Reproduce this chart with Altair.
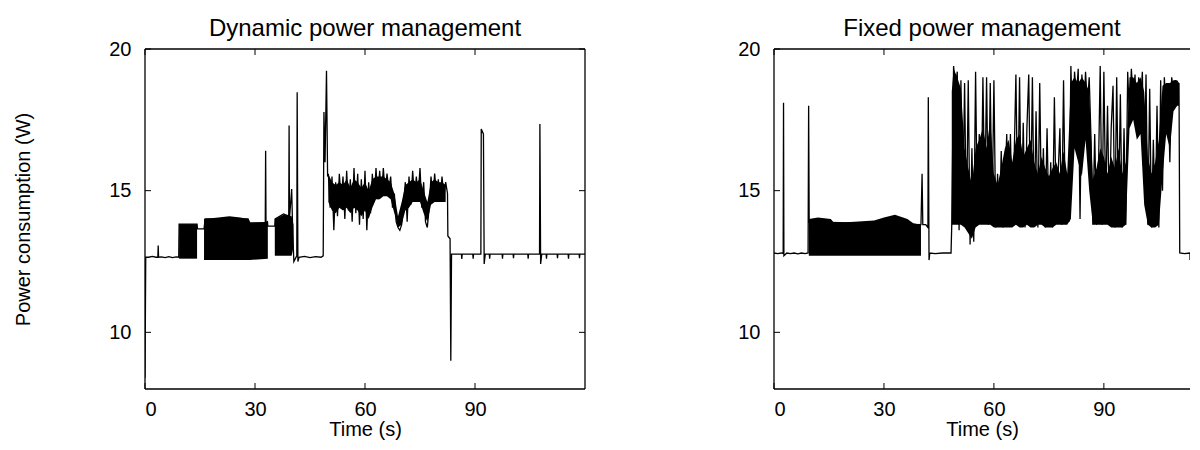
import altair as alt
import pandas as pd

# ---------------- Dynamic power management ----------------
dyn_t = [0, 0.2, 1, 2, 3, 3.5, 3.6, 3.7, 4.5, 5.5, 6.5, 7.5, 8.5, 9.2,
         9.3, 14.2, 14.3, 16.1, 16.4, 28.1, 28.6, 32.8, 32.9, 33.0, 33.4, 33.5, 35.4,
         35.5, 37.8, 39.2, 39.3, 39.4, 40.0, 40.3, 40.6, 41.0, 41.4, 41.5, 41.7,
         42, 43.5, 45, 46.5, 48, 48.6, 48.8, 49.1, 49.5, 49.8,
         50, 50.5, 51, 51.5, 52, 52.5, 53, 53.5, 54, 54.5, 55, 55.5, 56, 56.5,
         57, 57.5, 58, 58.5, 59, 59.5, 60, 60.5, 61, 61.5, 62, 62.5, 63, 63.5,
         64, 64.5, 65, 65.5, 66, 66.5, 67, 67.5, 68, 68.5, 69, 69.5, 70, 70.5,
         71, 71.5, 72, 72.5, 73, 73.5, 74, 74.5, 75, 75.5, 76, 76.5, 77, 77.5,
         78, 78.5, 79, 79.5, 80, 80.5, 81, 81.5, 82, 82.5,
         82.6, 83.2, 83.4, 83.6, 86.3, 86.4, 86.5, 89.4, 89.5, 89.6, 91.6, 91.7,
         92.3, 92.5, 92.8, 93.9, 94, 94.1, 97.4, 97.5, 97.6, 100.4, 100.5, 100.6,
         104.4, 104.5, 104.6, 107.6, 107.7, 107.9, 108.2, 109.4, 109.5, 109.6, 112.4,
         112.5, 112.6, 115.4, 115.5, 115.6, 118.4, 118.5, 118.6, 120]
dyn_v = [8.4, 12.65, 12.65, 12.68, 12.65, 12.65, 13.06, 12.65, 12.66, 12.64, 12.67, 12.64, 12.66, 12.65,
         13.82, 13.82, 13.65, 13.65, 14.0, 14.0, 13.86, 13.86, 16.41, 13.86, 13.9, 13.75, 13.75,
         14.0, 14.18, 14.1, 17.3, 14.0, 15.06, 13.5, 12.5, 12.6, 12.7, 18.47, 12.5,
         12.65, 12.68, 12.64, 12.67, 12.65, 12.7, 17.78, 16.0, 19.23, 15.5,
         15.6, 14.4, 15.5, 13.6, 15.3, 14.1, 15.6, 14.6, 15.5, 14.0, 15.7, 14.3, 15.4, 13.9,
         15.8, 14.2, 15.6, 13.8, 15.4, 14.0, 15.7, 13.6, 15.3, 14.2, 15.6, 14.6, 15.8, 14.7,
         15.7, 14.8, 15.8, 14.9, 15.6, 15.0, 15.5, 14.4, 14.9, 13.9, 13.7, 13.6, 13.8, 14.5,
         15.3, 13.9, 15.5, 14.5, 15.7, 14.7, 15.5, 14.8, 15.8, 14.4, 15.3, 13.9, 13.7, 14.4,
         15.5, 14.7, 15.6, 14.8, 15.4, 14.6, 15.5, 14.8, 15.3, 14.9,
         13.4, 13.3, 9.0, 12.76, 12.76, 12.59, 12.76, 12.76, 12.6, 12.76, 12.76, 17.18,
         17.0, 12.41, 12.76, 12.76, 12.6, 12.76, 12.76, 12.6, 12.76, 12.76, 12.62, 12.76,
         12.76, 12.6, 12.76, 12.76, 17.35, 12.41, 12.76, 12.76, 12.6, 12.76, 12.76,
         12.62, 12.76, 12.76, 12.6, 12.76, 12.76, 12.62, 12.76, 12.76]

# dense bands (rapid switching that prints as solid black)
dyn_band_seg = ["a", "a",
                "b", "b", "b", "b", "b", "b", "b",
                "c", "c", "c", "c",
                "d", "d", "d", "d", "d", "d", "d", "d", "d", "d", "d", "d", "d", "d", "d", "d",
                "d", "d", "d", "d", "d", "d", "d", "d", "d", "d", "d", "d", "d", "d", "d", "d", "d"]
dyn_band_t = [9.3, 14.2,
              16.1, 20, 23, 26, 28.1, 28.6, 33.5,
              35.4, 37.8, 40.0, 40.5,
              50, 51, 52, 53, 54, 55, 56, 57, 58, 59, 60, 61, 62, 63, 64, 65,
              66, 67, 68, 69, 70, 71, 72, 73, 74, 75, 76, 77, 78, 79, 80, 81, 82]
dyn_band_lo = [12.6, 12.6,
               12.55, 12.55, 12.55, 12.55, 12.55, 12.55, 12.6,
               12.7, 12.7, 12.7, 13.0,
               14.6, 14.3, 14.2, 14.4, 14.3, 14.4, 14.2, 14.4, 14.3, 14.1, 14.3, 14.0, 14.4, 14.7, 14.7, 14.8,
               14.8, 14.7, 14.2, 13.7, 13.8, 14.3, 14.4, 14.6, 14.6, 14.6, 14.2, 13.9, 14.5, 14.6, 14.6, 14.6, 14.6]
dyn_band_hi = [13.82, 13.82,
               14.0, 14.05, 14.1, 14.05, 14.0, 13.86, 13.9,
               14.0, 14.15, 14.1, 13.8,
               15.6, 15.3, 15.2, 15.3, 15.2, 15.4, 15.1, 15.4, 15.3, 15.1, 15.3, 15.0, 15.4, 15.5, 15.5, 15.5,
               15.4, 15.3, 14.9, 14.1, 14.6, 15.2, 15.3, 15.4, 15.3, 15.4, 15.0, 14.6, 15.3, 15.4, 15.3, 15.3, 15.2]

# ---------------- Fixed power management ----------------
fix_t = [0, 1, 2, 2.5, 2.6, 2.7, 3.5, 4.5, 5.5, 6.5, 7.5, 8.5, 9.3, 9.45, 9.6,
         40.1, 40.4, 40.6, 41.4, 42.0, 42.1, 42.3, 42.5, 44, 46, 48.3, 48.5,
         49.0, 49.5, 50.0, 50.5, 51.0, 51.5, 52.0, 52.5, 53.0, 53.5, 54.0, 54.5,
         55.0, 55.5, 56.0, 56.5, 57.0, 57.5, 58.0, 58.5, 59.0, 59.5, 60.0, 60.5,
         61.0, 61.5, 62.0, 62.5, 63.0, 63.5, 64.0, 64.5, 65.0, 65.5, 66.0, 66.5,
         67.0, 67.5, 68.0, 68.5, 69.0, 69.5, 70.0, 70.5, 71.0, 71.5, 72.0, 72.5,
         73.0, 73.5, 74.0, 74.5, 75.0, 75.5, 76.0, 76.5, 77.0, 77.5, 78.0, 78.5,
         79.0, 79.5, 80.0, 80.5, 81.0, 81.5, 82.0, 82.5, 83.0, 83.5, 84.0, 84.5,
         85.0, 85.5, 86.0, 86.5, 87.0, 87.5, 88.0, 88.5, 89.0, 89.5, 90.0, 90.5,
         91.0, 91.5, 92.0, 92.5, 93.0, 93.5, 94.0, 94.5, 95.0, 95.5, 96.0, 96.5,
         97.0, 97.5, 98.0, 98.5, 99.0, 99.5, 100.0, 100.5, 101.0, 101.5, 102.0, 102.5,
         103.0, 103.5, 104.0, 104.5, 105.0, 105.5, 106.0, 106.5, 107.0, 107.5, 108.0, 108.5,
         109.0, 109.5, 110.0, 110.5, 110.7, 112, 114.1, 114.2, 114.3, 116, 118, 120]
fix_v = [12.8, 12.78, 12.8, 12.78, 18.1, 12.7, 12.8, 12.78, 12.8, 12.77, 12.8, 12.78, 12.8, 18.0, 13.9,
         13.8, 15.6, 13.8, 13.8, 13.7, 18.3, 12.55, 12.8, 12.78, 12.8, 12.8, 13.8,
         19.4, 18.6, 19.2, 13.6, 18.9, 14.2, 18.8, 13.7, 18.9, 13.1, 16.5, 13.2,
         19.2, 13.8, 17.0, 13.9, 19.0, 14.5, 19.0, 13.8, 18.8, 14.0, 18.9, 13.7,
         15.6, 13.8, 16.4, 13.7, 15.2, 17.0, 13.8, 17.0, 14.0, 16.0, 19.1, 14.2,
         19.0, 13.8, 17.4, 13.7, 17.2, 19.1, 14.0, 19.0, 13.8, 17.8, 13.7, 18.8,
         14.1, 16.5, 13.7, 17.2, 13.8, 16.0, 13.7, 18.3, 14.0, 15.5, 17.2, 13.8,
         18.9, 14.0, 15.3, 13.9, 19.4, 17.0, 19.2, 18.3, 19.3, 14.0, 19.1, 17.5,
         19.2, 18.0, 19.0, 16.8, 13.8, 17.0, 13.8, 15.5, 19.4, 13.8, 19.2, 14.5,
         18.0, 13.8, 17.2, 18.7, 13.7, 19.0, 14.0, 18.4, 13.7, 17.2, 13.8, 19.2,
         17.5, 19.3, 18.2, 19.1, 17.0, 19.0, 18.0, 19.2, 15.5, 19.1, 13.8, 18.6,
         13.7, 16.8, 13.8, 18.0, 13.7, 18.9, 15.0, 19.0, 17.6, 18.8, 16.0, 19.0,
         18.5, 18.9, 18.6, 18.8, 12.8, 12.78, 12.8, 12.55, 12.8, 12.78, 12.8, 12.78]

fix_band_seg = ["a", "a", "a", "a", "a", "a", "a", "a", "a", "a", "a",
                "b", "b", "b", "b", "b", "b", "b", "b", "b", "b", "b", "b", "b", "b", "b", "b",
                "b", "b", "b", "b", "b", "b", "b", "b", "b", "b", "b", "b", "b", "b", "b", "b",
                "b", "b", "b", "b", "b", "b", "b", "b", "b", "b", "b", "b", "b", "b", "b", "b",
                "b", "b", "b", "b", "b", "b", "b", "b", "b", "b", "b", "b", "b", "b", "b", "b"]
fix_band_t = [9.5, 12, 15.5, 16.4, 22, 27.3, 30, 33, 36.4, 38, 40.1,
              48.5, 49, 50, 51, 52, 53, 54, 55, 56, 57, 58, 59, 60, 61, 62, 63,
              64, 65, 66, 67, 68, 69, 70, 71, 72, 73, 74, 75, 76, 77, 78, 79,
              80, 81, 82, 83, 84, 85, 86, 87, 88, 89, 90, 91, 92, 93, 94, 95,
              96, 97, 98, 99, 100, 101, 102, 103, 104, 105, 106, 107, 108, 109, 110, 110.5]
fix_band_lo = [12.7, 12.7, 12.7, 12.7, 12.7, 12.7, 12.7, 12.7, 12.7, 12.7, 12.7,
               13.8, 13.8, 13.8, 13.8, 13.7, 13.5, 13.3, 13.7, 13.8, 13.8, 13.8, 13.8, 13.7, 13.7, 13.7, 13.7,
               13.7, 13.7, 13.8, 13.7, 13.7, 13.8, 13.7, 13.7, 13.8, 13.8, 13.7, 13.7, 13.7, 13.8, 13.8, 13.8,
               13.8, 14.0, 16.5, 16.0, 15.5, 16.8, 15.0, 13.8, 13.8, 13.8, 13.8, 13.8, 13.7, 13.7, 13.7, 13.7,
               13.8, 17.2, 17.5, 16.8, 17.0, 14.5, 13.8, 13.7, 13.7, 13.8, 15.5, 17.0, 16.5, 17.8, 18.0, 18.0]
fix_band_hi = [14.0, 14.05, 14.0, 13.86, 13.9, 13.95, 14.05, 14.15, 14.0, 13.85, 13.8,
               18.5, 19.3, 19.0, 18.6, 16.5, 15.8, 15.2, 16.5, 16.8, 17.2, 16.5, 17.5, 15.6, 15.2, 15.8, 16.5,
               16.8, 16.0, 16.8, 17.0, 16.2, 16.5, 16.8, 16.0, 15.6, 16.2, 15.8, 15.5, 15.8, 16.0, 15.6, 16.4,
               15.6, 18.8, 19.0, 18.8, 19.0, 18.8, 18.5, 15.4, 15.8, 16.5, 16.2, 15.6, 16.2, 15.8, 16.5, 15.6,
               16.0, 19.0, 19.0, 18.8, 19.0, 18.5, 16.2, 15.6, 16.0, 16.8, 18.7, 18.8, 18.8, 18.9, 18.9, 18.8]

x_ticks = [0, 30, 60, 90]
y_ticks = [10, 15, 20]

FONT = "Liberation Sans"
H = 340
SEC_PX = 440 / 120.0  # pixels per second shared by both panels


def panel(title, t, v, bseg, bt, blo, bhi, ytitle, tmax):
    W = round(tmax * SEC_PX)
    line_df = pd.DataFrame({"t": t, "v": v, "i": list(range(len(t)))})
    band_df = pd.DataFrame({"seg": bseg, "t": bt, "lo": blo, "hi": bhi})
    xt_df = pd.DataFrame({"t": x_ticks})
    yt_df = pd.DataFrame({"v": y_ticks})
    one = pd.DataFrame({"k": [0]})
    xs = alt.Scale(domain=[0, tmax], nice=False, zero=False, clamp=True)
    ys = alt.Scale(domain=[8, 20], nice=False, zero=False)

    xaxis = alt.Axis(values=x_ticks, ticks=False, domain=False, grid=False,
                     labelFontSize=20, labelPadding=10, labelFont=FONT,
                     labelColor="black", title="Time (s)", titleFontSize=20,
                     titleFont=FONT, titleFontWeight="normal", titlePadding=0,
                     titleColor="black")
    yaxis_kw = dict(values=y_ticks, ticks=False, domain=False, grid=False,
                    labelFontSize=20, labelPadding=14, labelFont=FONT,
                    labelColor="black")
    if ytitle:
        yaxis_kw.update(title=ytitle, titleFontSize=20, titleFont=FONT,
                        titleFontWeight="normal", titlePadding=75,
                        titleColor="black")
    else:
        yaxis_kw.update(title="")
    yaxis = alt.Axis(**yaxis_kw)

    X = alt.X("t:Q", scale=xs, axis=xaxis)
    band = alt.Chart(band_df).mark_area(color="black", opacity=1, interpolate="linear").encode(
        x=X,
        y=alt.Y("lo:Q", scale=ys, axis=yaxis),
        y2="hi:Q",
        detail="seg:N",
    )
    line = alt.Chart(line_df).mark_line(color="black", strokeWidth=1.3, clip=True).encode(
        x=X,
        y=alt.Y("v:Q", scale=ys, axis=yaxis),
        order="i:Q",
    )
    tb = alt.Chart(xt_df).mark_rule(color="black", strokeWidth=1).encode(
        x=X, y=alt.value(H), y2=alt.value(H - 6))
    tt = alt.Chart(xt_df).mark_rule(color="black", strokeWidth=1).encode(
        x=X, y=alt.value(0), y2=alt.value(6))
    tl = alt.Chart(yt_df).mark_rule(color="black", strokeWidth=1).encode(
        y=alt.Y("v:Q", scale=ys, axis=yaxis), x=alt.value(0), x2=alt.value(6))
    frame = [
        alt.Chart(one).mark_rule(color="black", strokeWidth=1.3).encode(
            x=alt.value(0), x2=alt.value(W), y=alt.value(0)),
        alt.Chart(one).mark_rule(color="black", strokeWidth=1.3).encode(
            x=alt.value(0), x2=alt.value(W), y=alt.value(H)),
        alt.Chart(one).mark_rule(color="black", strokeWidth=1.3).encode(
            x=alt.value(0), y=alt.value(0), y2=alt.value(H)),
    ]
    layers = [line, band, tb, tt, tl] + frame
    if tmax >= 120:
        tr = alt.Chart(yt_df).mark_rule(color="black", strokeWidth=1).encode(
            y=alt.Y("v:Q", scale=ys, axis=yaxis), x=alt.value(W), x2=alt.value(W - 6))
        fr = alt.Chart(one).mark_rule(color="black", strokeWidth=1.3).encode(
            x=alt.value(W), y=alt.value(0), y2=alt.value(H))
        layers += [tr, fr]

    return alt.layer(*layers).properties(
        width=W, height=H,
        title=alt.TitleParams(title, fontSize=24, font=FONT, fontWeight="normal",
                              color="black", offset=-2, anchor="middle"),
    )


left = panel("Dynamic power management", dyn_t, dyn_v, dyn_band_seg, dyn_band_t,
             dyn_band_lo, dyn_band_hi, "Power consumption (W)", 120)
right = panel("Fixed power management", fix_t, fix_v, fix_band_seg, fix_band_t,
              fix_band_lo, fix_band_hi, None, 113.5)

chart = alt.hconcat(left, right, spacing=150).properties(
    padding={"left": 5, "top": 8, "right": 0, "bottom": 0}
).configure(
    background="white",
    view=alt.ViewConfig(stroke="transparent"),
)

chart.save("out.html", embed_options={"renderer": "svg", "actions": False})
